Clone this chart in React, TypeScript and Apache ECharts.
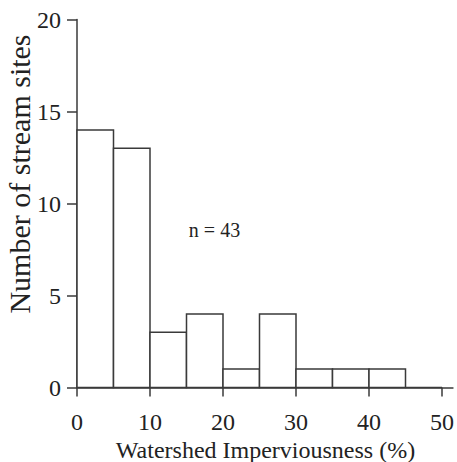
import React, { useEffect, useRef } from "react";
import * as echarts from "echarts";

const binStarts = [0, 5, 10, 15, 20, 25, 30, 35, 40, 45];
const binWidth = 5;
const counts = [14, 13, 3, 4, 1, 4, 1, 1, 1, 0];
const xTicks = [0, 10, 20, 30, 40, 50];
const yTicks = [0, 5, 10, 15, 20];
const xTitle = "Watershed Imperviousness (%)";
const yTitle = "Number of stream sites";
const note = "n = 43";

const FONT = "Liberation Serif";
const INK = "#3a3a3a";

export default function App() {
  const ref = useRef<HTMLDivElement>(null);
  useEffect(() => {
    if (!ref.current) return;
    const chart = echarts.init(ref.current, null, { renderer: "svg" });
    const data = binStarts.map((s, i) => [s, s + binWidth, counts[i]]);
    chart.setOption({
      animation: false,
      backgroundColor: "#ffffff",
      grid: { left: 77, top: 19.5, right: 1, bottom: 74.5, containLabel: false },
      xAxis: {
        type: "value",
        min: 0,
        max: 51.5,
        interval: 10,
        splitLine: { show: false },
        axisLine: { show: true, lineStyle: { color: INK, width: 1.5 } },
        axisTick: { show: true, length: 9, customValues: xTicks, lineStyle: { color: INK, width: 1.5 } },
        axisLabel: { customValues: xTicks, margin: 22, color: "#222", fontFamily: FONT, fontSize: 24 },
      },
      yAxis: {
        type: "value",
        min: 0,
        max: 20,
        interval: 5,
        splitLine: { show: false },
        axisLine: { show: true, lineStyle: { color: INK, width: 1.5 } },
        axisTick: { show: true, length: 10, customValues: yTicks, lineStyle: { color: INK, width: 1.5 } },
        axisLabel: { customValues: yTicks, margin: 16, color: "#222", fontFamily: FONT, fontSize: 24 },
      },
      graphic: [
        {
          type: "text",
          x: 265.5,
          y: 449.5,
          style: { text: xTitle, fill: "#222", font: `24px "${FONT}"`, textAlign: "center", textVerticalAlign: "middle" },
        },
        {
          type: "text",
          x: 19.5,
          y: 174,
          rotation: Math.PI / 2,
          style: { text: yTitle, fill: "#222", font: `30px "${FONT}"`, textAlign: "center", textVerticalAlign: "middle" },
        },
        {
          type: "text",
          x: 214.5,
          y: 230,
          style: { text: note, fill: "#222", font: `20px "${FONT}"`, textAlign: "center", textVerticalAlign: "middle" },
        },
      ],
      series: [
        {
          type: "custom",
          data,
          encode: { x: [0, 1], y: 2 },
          renderItem: (params: any, api: any) => {
            const p0 = api.coord([api.value(0), api.value(2)]);
            const p1 = api.coord([api.value(1), 0]);
            return {
              type: "rect",
              shape: { x: p0[0], y: p0[1], width: p1[0] - p0[0], height: p1[1] - p0[1] },
              style: { fill: "#ffffff", stroke: INK, lineWidth: 1.5 },
            };
          },
        },
      ],
    });
    return () => chart.dispose();
  }, []);
  return <div ref={ref} style={{ width: 457, height: 462, position: "absolute", left: 0, top: 0 }} />;
}
